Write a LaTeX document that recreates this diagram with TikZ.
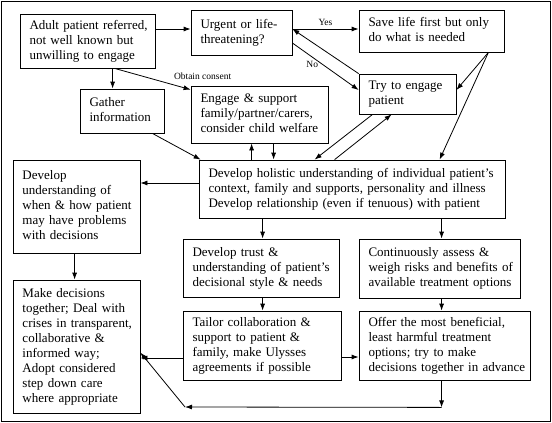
\documentclass[tikz,border=0pt]{standalone}
\usepackage{fontspec}
\setmainfont{Liberation Serif}
\usetikzlibrary{arrows.meta,calc}
\tikzset{
  box/.style={draw, line width=0.8pt, align=left, inner xsep=2pt, inner ysep=2pt,
    font=\fontsize{13}{15}\selectfont},
  arr/.style={-{Latex[length=7pt,width=5pt]}, line width=0.8pt},
  lab/.style={font=\fontsize{9.5}{11}\selectfont, inner sep=1pt}
}
\newcommand{\bx}[6]{% name, cx, cy, w, h, text
  \node[box, minimum width=#4pt, minimum height=#5pt, text width=#4pt-4pt] (#1) at (#2,#3)
    {\hspace*{7.5pt}\begin{tabular}{@{}l@{}}#6\end{tabular}};}
\begin{document}
\begin{tikzpicture}[x=1pt,y=-1pt]
\useasboundingbox (0,0) rectangle (552,423);
\draw[line width=0.8pt] (1,1) rectangle (550,421);

\bx{adult}{87.5}{41}{135}{54}{Adult patient referred,\\ not well known but\\ unwilling to engage}
\bx{urgent}{241.5}{32.5}{101}{45}{Urgent or life-\\threatening?}
\bx{save}{431.5}{31}{145}{42}{Save life first but only\\ do what is needed}
\bx{try}{407.5}{94}{97}{40}{Try to engage\\ patient}
\bx{gather}{122}{111}{84}{44}{Gather\\ information}
\bx{engage}{259.5}{114.5}{137}{57}{Engage \& support\\ family/partner/carers,\\ consider child welfare}
\bx{holistic}{352}{189}{306}{58}{Develop holistic understanding of individual patient’s\\ context, family and supports, personality and illness\\ Develop relationship (even if tenuous) with patient}
\bx{devund}{76.5}{206.5}{127}{93}{Develop\\ understanding of\\ when \& how patient\\ may have problems\\ with decisions}
\bx{trust}{261}{268}{156}{58}{Develop trust \&\\ understanding of patient’s\\ decisional style \& needs}
\bx{cont}{439.5}{268.5}{161}{59}{Continuously assess \&\\ weigh risks and benefits of\\ available treatment options}
\bx{make}{76.5}{346.5}{127}{133}{Make decisions\\ together; Deal with\\ crises in transparent,\\ collaborative \&\\ informed way;\\ Adopt considered\\ step down care\\ where appropriate}
\bx{tailor}{262}{345.5}{158}{69}{Tailor collaboration \&\\ support to patient \&\\ family, make Ulysses\\ agreements if possible}
\bx{offer}{444.5}{345.5}{171}{69}{Offer the most beneficial,\\ least harmful treatment\\ options; try to make\\ decisions together in advance}

% top row
\draw[arr] ([yshift=12pt]adult.east) -- ([yshift=12pt]adult.east -| urgent.west);
\draw[arr] ([yshift=3.5pt]urgent.east) -- node[lab, above=2pt] {Yes} ([yshift=3.5pt]urgent.east -| save.west);
\draw[arr] (try.north west) -- ([yshift=3.5pt]urgent.east);
\draw[arr] ([yshift=-10.5pt]urgent.east) -- node[lab, pos=0.3, below=3pt] {No} ([yshift=4pt]try.west);
\draw[arr] ($(save.south east)+(-16,0)$) -- ([yshift=4pt]try.east);
\draw[arr] ($(save.south east)+(-16,0)$) -- ($(holistic.north west)+(241,0)$);
\draw[arr] ($(try.south west)+(14,0)$) -- ($(holistic.north west)+(116,0)$);
\draw[arr] ($(holistic.north west)+(136,0)$) -- ($(try.south west)+(33,0)$);

% left upper
\draw[arr] ($(adult.south west)+(93,0)$) -- ($(gather.north west)+(33,0)$);
\draw[arr] ($(adult.south west)+(95,0)$) -- ([yshift=-4pt]engage.north west)
  node[lab, at end, anchor=south west, xshift=-18pt, yshift=9pt] {Obtain consent};
\draw[arr] ($(gather.south east)+(-12,0)$) -- ($(holistic.north west)+(2,0)$);
\draw[arr] ($(holistic.north west)+(53,0)$) -- ($(engage.south west)+(61,0)$);
\draw[arr] ($(engage.south west)+(83,0)$) -- ($(holistic.north west)+(75,0)$);

% middle
\draw[arr] ([yshift=6pt]holistic.west) -- ([yshift=6pt]holistic.west -| devund.east);
\draw[arr] ($(holistic.south west)+(64,0)$) -- ($(trust.north west)+(80,0)$);
\draw[arr] ($(holistic.south west)+(243,0)$) -- ($(cont.north west)+(83,0)$);
\draw[arr] ($(devund.south west)+(62,0)$) -- ($(make.north west)+(62,0)$);
\draw[arr] ($(trust.south west)+(80,0)$) -- ($(tailor.north west)+(80,0)$);
\draw[arr] ($(cont.south west)+(83,0)$) -- ($(offer.north west)+(83,0)$);

% bottom
\draw[arr] ([yshift=-12.5pt]tailor.west) -- ([yshift=-12.5pt]tailor.west -| make.east);
\draw[arr] ([yshift=-11.5pt]tailor.east) -- ([yshift=-11.5pt]tailor.east -| offer.west);
\coordinate (br) at ($(offer.south west)+(83,27)$);
\coordinate (bl) at (185,407);
\draw[arr] ($(offer.south west)+(83,0)$) -- (br);
\draw[arr] (br) -- (bl);
\draw[arr] (bl) -- ($(make.north east)+(0,73)$);
\end{tikzpicture}
\end{document}
